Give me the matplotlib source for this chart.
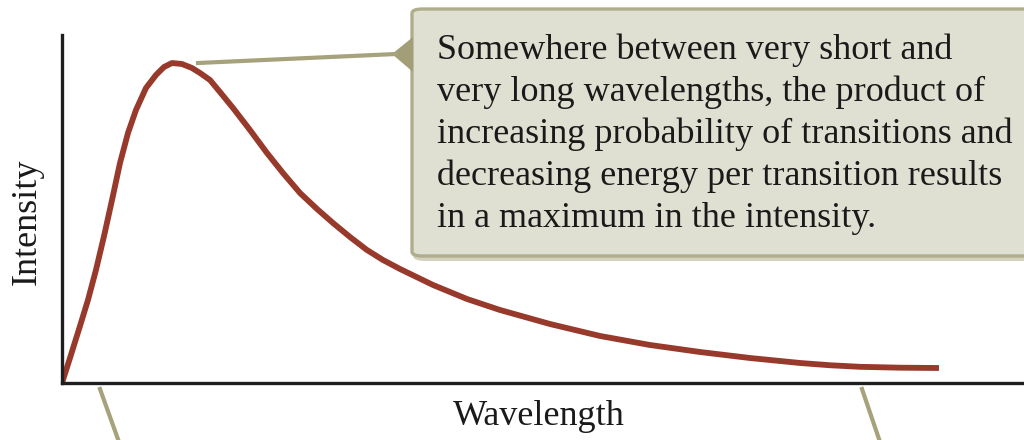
import matplotlib
matplotlib.use("Agg")
import matplotlib.pyplot as plt
from matplotlib.patches import FancyBboxPatch, Polygon
from matplotlib.lines import Line2D

# Data (arbitrary units)
wavelength = [0.00, 0.083, 0.187, 0.270, 0.353, 0.437, 0.520, 0.603, 0.686,
              0.769, 0.873, 0.977, 1.060, 1.143, 1.247, 1.351, 1.435, 1.538,
              1.642, 1.778, 1.954, 2.131, 2.297, 2.474, 2.651, 2.817, 2.994,
              3.170, 3.337, 3.514, 3.857, 4.210, 4.553, 5.073, 5.593, 6.112,
              6.632, 7.152, 7.672, 7.984, 8.295, 8.711, 9.116]
intensity = [0.000, 0.718, 1.638, 2.385, 3.247, 4.224, 5.259, 6.322, 7.184,
             7.845, 8.477, 8.851, 9.080, 9.195, 9.167, 9.052, 8.908, 8.707,
             8.362, 7.902, 7.270, 6.609, 6.034, 5.460, 5.000, 4.598, 4.195,
             3.822, 3.534, 3.276, 2.816, 2.414, 2.098, 1.695, 1.351, 1.092,
             0.891, 0.718, 0.575, 0.510, 0.465, 0.440, 0.431]

x_label = "Wavelength"
y_label = "Intensity"
callout_lines = [
    "Somewhere between very short and",
    "very long wavelengths, the product of",
    "increasing probability of transitions and",
    "decreasing energy per transition results",
    "in a maximum in the intensity.",
]

W, H = 1024, 440
fig = plt.figure(figsize=(W / 100, H / 100), dpi=100)
fig.patch.set_facecolor("white")

def fx(px):
    return px / W

def fy(py):
    return (H - py) / H

serif = ["Liberation Serif", "DejaVu Serif"]
FS = 26

ax = fig.add_axes([fx(62), fy(383), (W - 62) / W, (383 - 35) / H])
ax.set_xlim(0, 10)
ax.set_ylim(0, 10)
ax.plot(wavelength, intensity, color="#973A2B", lw=4.2,
        solid_capstyle="butt", solid_joinstyle="round")
for s in ["top", "right"]:
    ax.spines[s].set_visible(False)
for s in ["left", "bottom"]:
    ax.spines[s].set_linewidth(2.4)
    ax.spines[s].set_color("#1E1E1E")
ax.set_xticks([])
ax.set_yticks([])
ax.patch.set_alpha(0)

# Axis labels
fig.text(fx(539), fy(425), x_label, ha="center", va="baseline",
         fontsize=FS, family=serif, color="#1A1A1A")
fig.text(fx(27), fy(222), y_label, ha="center", va="center", rotation=90,
         fontsize=FS, family=serif, color="#1A1A1A")

olive = "#A6A27C"

# Leader lines
fig.add_artist(Line2D([fx(198), fx(396)], [fy(63), fy(54)], color=olive,
                      lw=3.0, transform=fig.transFigure))
fig.add_artist(Line2D([fx(100), fx(119)], [fy(389), fy(442)], color=olive,
                      lw=3.0, transform=fig.transFigure))
fig.add_artist(Line2D([fx(862), fx(880)], [fy(389), fy(442)], color=olive,
                      lw=3.0, transform=fig.transFigure))

# Callout box: shadow, box, pointer
shadow = FancyBboxPatch((fx(413), fy(261)), fx(700), (261 - 12) / H,
                        boxstyle="round,pad=0,rounding_size=0.012",
                        transform=fig.transFigure, facecolor="#D2D2BE",
                        edgecolor="none")
fig.add_artist(shadow)
box = FancyBboxPatch((fx(412), fy(256)), fx(700), (256 - 9) / H,
                     boxstyle="round,pad=0,rounding_size=0.01",
                     transform=fig.transFigure, facecolor="#E0E0D2",
                     edgecolor="#B0AD8D", lw=2.4)
fig.add_artist(box)
pointer = Polygon([[fx(392), fy(54)], [fx(413), fy(37)], [fx(413), fy(72)]],
                  closed=True, transform=fig.transFigure,
                  facecolor="#A29E78", edgecolor="none")
fig.add_artist(pointer)

for i, line in enumerate(callout_lines):
    fig.text(fx(437), fy(59 + 42 * i), line, ha="left", va="baseline",
             fontsize=FS, family=serif, color="#1A1A1A")

fig.savefig("out.png", dpi=100, facecolor="white")
